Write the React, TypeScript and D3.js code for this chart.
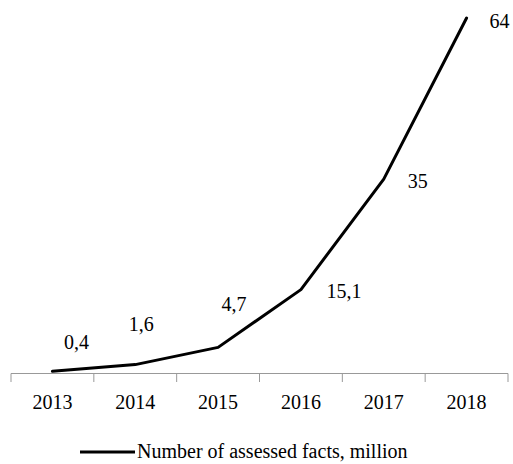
import React, { useEffect, useRef } from "react";
import * as d3 from "d3";

const years = ["2013", "2014", "2015", "2016", "2017", "2018"];
const values = [0.4, 1.6, 4.7, 15.1, 35, 64];
const valueLabels = ["0,4", "1,6", "4,7", "15,1", "35", "64"];
const labelDx = [24, 6, 16, 43, 34, 33];
const labelDy = [-22, -34, -36, 8, 9, 10];
const seriesName = "Number of assessed facts, million";

const W = 513;
const H = 464;
const FONT = "Liberation Serif";

export default function App() {
  const ref = useRef<SVGSVGElement | null>(null);
  useEffect(() => {
    const svg = d3.select(ref.current as SVGSVGElement);
    svg.selectAll("*").remove();
    const x = d3.scaleBand<string>().domain(years).range([11, 508]);
    const y = d3.scaleLinear().domain([0, 64]).range([373.5, 18]);
    const cx = (d: string) => (x(d) as number) + x.bandwidth() / 2;

    svg.append("rect").attr("width", W).attr("height", H).attr("fill", "#fff");

    const axis = svg
      .append("g")
      .attr("transform", "translate(0,373.5)")
      .call(d3.axisBottom(x).tickSize(0).tickPadding(0).tickFormat(() => ""));
    axis.select(".domain").attr("stroke", "#999").attr("d", "M11,0H508");
    const tickX = [...years.map((d) => x(d) as number), 508];
    axis
      .selectAll("line.t")
      .data(tickX)
      .join("line")
      .attr("class", "t")
      .attr("x1", (d) => d)
      .attr("x2", (d) => d)
      .attr("y1", 0)
      .attr("y2", 8.5)
      .attr("stroke", "#999");

    svg
      .append("g")
      .selectAll("text")
      .data(years)
      .join("text")
      .attr("x", (d) => cx(d))
      .attr("y", 409)
      .attr("text-anchor", "middle")
      .attr("font-family", FONT)
      .style("font-family", FONT)
      .attr("font-size", 20)
      .attr("fill", "#000")
      .text((d) => d);

    const line = d3
      .line<number>()
      .x((_, i) => cx(years[i]))
      .y((v) => y(v));
    svg
      .append("path")
      .attr("d", line(values) || "")
      .attr("fill", "none")
      .attr("stroke", "#000")
      .attr("stroke-width", 3)
      .attr("stroke-linejoin", "round")
      .attr("stroke-linecap", "round");

    svg
      .append("g")
      .selectAll("text")
      .data(values)
      .join("text")
      .attr("x", (_, i) => cx(years[i]) + labelDx[i])
      .attr("y", (v, i) => y(v) + labelDy[i])
      .attr("text-anchor", "middle")
      .attr("font-family", FONT)
      .style("font-family", FONT)
      .attr("font-size", 20)
      .attr("fill", "#000")
      .text((_, i) => valueLabels[i]);

    svg
      .append("line")
      .attr("x1", 80)
      .attr("x2", 135)
      .attr("y1", 452)
      .attr("y2", 452)
      .attr("stroke", "#000")
      .attr("stroke-width", 3);
    svg
      .append("text")
      .attr("x", 137)
      .attr("y", 458)
      .attr("font-family", FONT)
      .style("font-family", FONT)
      .attr("font-size", 20)
      .attr("fill", "#000")
      .text(seriesName);
  }, []);
  return (
    <svg
      ref={ref}
      width={W}
      height={H}
      style={{ position: "absolute", left: 0, top: 0, background: "#fff" }}
    />
  );
}
